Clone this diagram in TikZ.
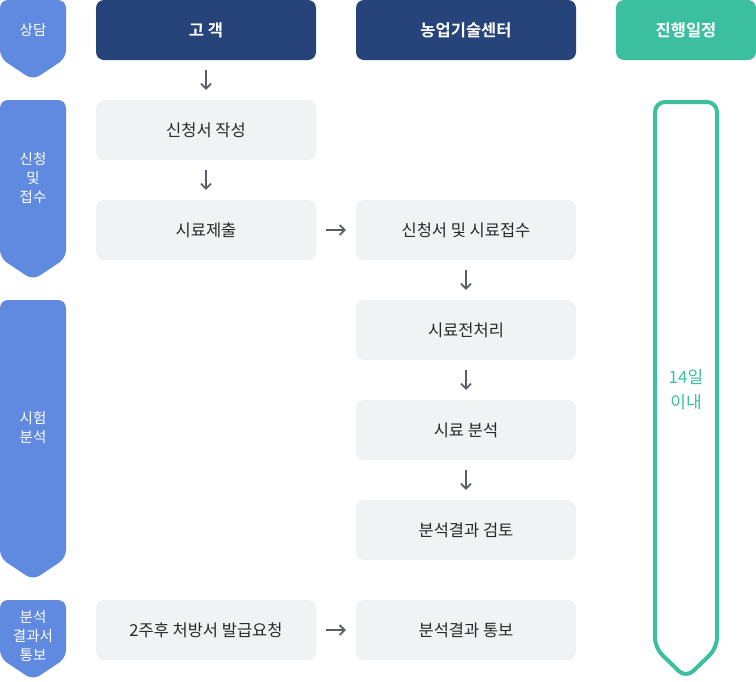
\documentclass[tikz,border=0pt]{standalone}
\usepackage{fontspec}
\setmainfont{Noto Sans CJK KR}[BoldFont={Noto Sans CJK KR Bold}]
\usetikzlibrary{positioning,arrows.meta}
\definecolor{headnavy}{RGB}{38,67,122}
\definecolor{stageblue}{RGB}{96,137,224}
\definecolor{boxgray}{RGB}{241,242,244}
\definecolor{textdark}{RGB}{40,40,44}
\definecolor{termgreen}{RGB}{59,191,158}
\definecolor{arrowgray}{RGB}{90,93,102}

\begin{document}
\begin{tikzpicture}[x=1pt, y=-1pt,
    head/.style={rounded corners=8pt, minimum width=220pt, minimum height=60pt, text=white, font=\fontsize{16.5}{18}\selectfont\bfseries},
    task/.style={fill=boxgray, rounded corners=8pt, minimum width=220pt, minimum height=60pt, text=textdark, font=\fontsize{16.5}{18}\selectfont},
    stagelabel/.style={text=white, align=center, font=\fontsize{14.5}{19}\selectfont},
    flow/.style={-{Straight Barb[length=5pt,width=10pt]}, line width=1.8pt, arrowgray, shorten <=10pt, shorten >=10pt}]
        \useasboundingbox (0,0) rectangle (756,681);

        % stages
        \fill[stageblue, rounded corners=8pt] (0,0) -- (66,0) -- (66,58) -- (33,80) -- (0,58) -- cycle;
        \fill[stageblue, rounded corners=8pt] (0,100) -- (66,100) -- (66,258) -- (33,280) -- (0,258) -- cycle;
        \fill[stageblue, rounded corners=8pt] (0,300) -- (66,300) -- (66,558) -- (33,580) -- (0,558) -- cycle;
        \fill[stageblue, rounded corners=8pt] (0,600) -- (66,600) -- (66,658) -- (33,680) -- (0,658) -- cycle;
        \node[stagelabel] (consult) at (33,30) {상담};
        \node[stagelabel] (apply) at (33,178) {신청\\및\\접수};
        \node[stagelabel] (test) at (33,428) {시험\\분석};
        \node[stagelabel] (notify) at (33,636) {분석\\결과서\\통보};

        % headers
        \node[head, fill=headnavy] (customer) at (206,30) {고 객};
        \node[head, fill=headnavy] (center) at (466,30) {농업기술센터};
        \node[head, fill=termgreen, minimum width=140pt] (schedule) at (686,30) {진행일정};

        % customer tasks
        \node[task] (form) at (206,130) {신청서 작성};
        \node[task] (submit) at (206,230) {시료제출};
        \node[task] (request) at (206,630) {2주후 처방서 발급요청};

        % center tasks
        \node[task] (receive) at (466,230) {신청서 및 시료접수};
        \node[task] (prep) at (466,330) {시료전처리};
        \node[task] (analysis) at (466,430) {시료 분석};
        \node[task] (review) at (466,530) {분석결과 검토};
        \node[task] (report) at (466,630) {분석결과 통보};

        \draw[flow] (customer) -- (form);
        \draw[flow] (form) -- (submit);
        \draw[flow] (submit) -- (receive);
        \draw[flow] (receive) -- (prep);
        \draw[flow] (prep) -- (analysis);
        \draw[flow] (analysis) -- (review);
        \draw[flow] (request) -- (report);

        % schedule
        \draw[termgreen, line width=4pt, rounded corners=10pt] (655,102) -- (717,102) -- (717,648) -- (686,678) -- (655,648) -- cycle;
        \node[text=termgreen, align=center, font=\fontsize{17}{25}\selectfont] (days) at (686,390) {14일\\이내};
    \end{tikzpicture}
\end{document}
